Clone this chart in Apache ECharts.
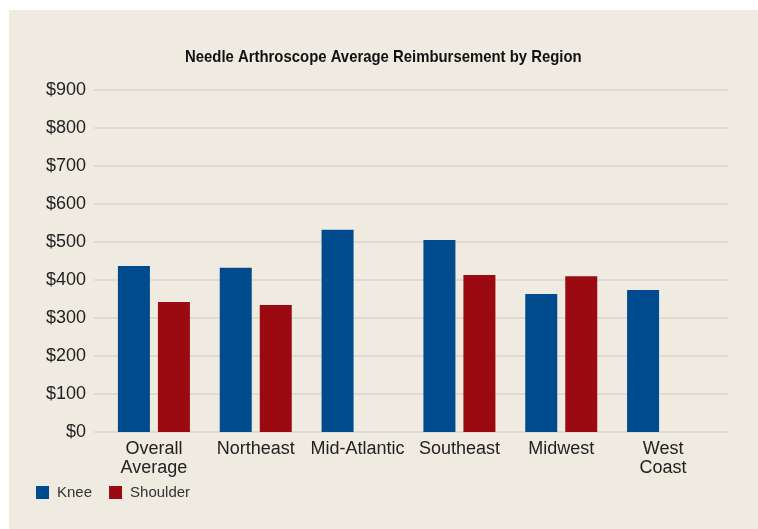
<!DOCTYPE html>
<html>
<head>
<meta charset="utf-8">
<script src="https://cdn.jsdelivr.net/npm/echarts@6/dist/echarts.min.js"></script>
<style>
html,body{margin:0;padding:0;background:#ffffff;}
#chart{width:758px;height:529px;}
</style>
</head>
<body>
<div id="chart"></div>
<script>
const titleText = 'Needle Arthroscope Average Reimbursement by Region';
const categories = ['Overall\nAverage', 'Northeast', 'Mid-Atlantic', 'Southeast', 'Midwest', 'West\nCoast'];
const kneeValues = [437, 432, 532, 505, 363, 374];
const shoulderValues = [342, 334, null, 413, 410, null];
const yTicks = [0, 100, 200, 300, 400, 500, 600, 700, 800, 900];

const chart = echarts.init(document.getElementById('chart'), null, {renderer: 'canvas'});
const font = "'Liberation Sans', Arial, sans-serif";
chart.setOption({
  backgroundColor: '#ffffff',
  animation: false,
  graphic: [{
    type: 'rect', z: -10, silent: true,
    shape: {x: 9, y: 10, width: 749, height: 519},
    style: {fill: '#efebe1'}
  }, {
    type: 'text', silent: true, x: 185, y: 49, scaleX: 0.876,
    style: {text: titleText, fontFamily: font, fontWeight: 'bold', fontSize: 17,
      fill: '#111111', textVerticalAlign: 'top', verticalAlign: 'top'}
  }],
  legend: {
    left: 31, top: 480,
    itemWidth: 13, itemHeight: 13, itemGap: 17,
    icon: 'rect',
    textStyle: {fontFamily: font, fontSize: 15, color: '#333333', padding: [0, 0, 0, 3]},
    data: ['Knee', 'Shoulder']
  },
  grid: [
    {left: 94, right: 30, top: 90, bottom: 97},
    {left: 103, right: 44, top: 90, bottom: 97}
  ],
  xAxis: [
    {gridIndex: 0, type: 'category', data: categories, show: false},
    {gridIndex: 1, type: 'category', data: categories,
      axisLine: {show: false}, axisTick: {show: false},
      axisLabel: {fontFamily: font, fontSize: 18, color: '#222222', lineHeight: 19, margin: 8, interval: 0}}
  ],
  yAxis: [
    {gridIndex: 0, type: 'value', min: 0, max: 900, interval: 100,
      axisLine: {show: false}, axisTick: {show: false},
      axisLabel: {fontFamily: font, fontSize: 18, color: '#222222', margin: 8,
        formatter: v => yTicks.includes(v) ? '$' + v : ''},
      splitLine: {lineStyle: {color: '#d9d6d0', width: 1.5}}},
    {gridIndex: 1, type: 'value', min: 0, max: 900, interval: 100, show: false, splitLine: {show: false}}
  ],
  series: [
    {name: 'Knee', type: 'bar', xAxisIndex: 1, yAxisIndex: 1, data: kneeValues,
      barWidth: 32, barGap: '25%', itemStyle: {color: '#004b8d'}},
    {name: 'Shoulder', type: 'bar', xAxisIndex: 1, yAxisIndex: 1, data: shoulderValues,
      barWidth: 32, barGap: '25%', itemStyle: {color: '#9b0a10'}}
  ]
});
</script>
</body>
</html>
